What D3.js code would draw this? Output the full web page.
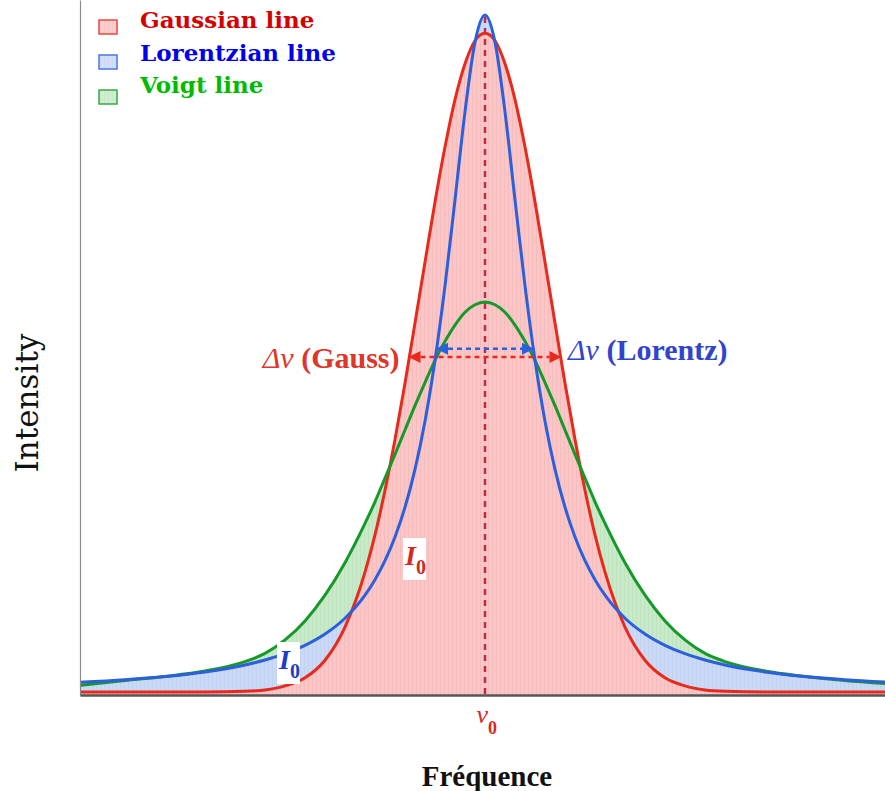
<!DOCTYPE html>
<html>
<head>
<meta charset="utf-8">
<script src="https://cdn.jsdelivr.net/npm/d3@7"></script>
<style>
  body { margin: 0; background: #fff; }
  svg { display: block; }
</style>
</head>
<body>
<svg id="chart" width="885" height="791"></svg>
<script>
// Frequency offset from the line centre (arbitrary units) and normalised intensities
const offsets = [-4.05, -3.6, -3.2, -2.8, -2.4, -2.2, -2.0, -1.8, -1.6, -1.4, -1.2, -1.1, -1.0, -0.9, -0.8, -0.7, -0.6, -0.5, -0.4, -0.3, -0.2, -0.1,
  0,
  0.1, 0.2, 0.3, 0.4, 0.5, 0.6, 0.7, 0.8, 0.9, 1.0, 1.1, 1.2, 1.4, 1.6, 1.8, 2.0, 2.2, 2.4, 2.8, 3.2, 3.6, 4.0];

const gaussian = [0, 0, 0, 0, 0.001, 0.003, 0.009, 0.021, 0.047, 0.096, 0.177, 0.232, 0.298, 0.373, 0.456, 0.545, 0.635, 0.724, 0.805, 0.875, 0.928, 0.962,
  0.973,
  0.962, 0.928, 0.875, 0.805, 0.724, 0.635, 0.545, 0.456, 0.373, 0.298, 0.232, 0.177, 0.096, 0.047, 0.021, 0.009, 0.003, 0.001, 0, 0, 0, 0];

const lorentzian = [0.0144, 0.0182, 0.0229, 0.0297, 0.040, 0.0473, 0.0566, 0.069, 0.0857, 0.109, 0.143, 0.166, 0.194, 0.229, 0.273, 0.329, 0.400, 0.490, 0.600, 0.727, 0.857, 0.960,
  1.0,
  0.960, 0.857, 0.727, 0.600, 0.490, 0.400, 0.329, 0.273, 0.229, 0.194, 0.166, 0.143, 0.109, 0.0857, 0.069, 0.0566, 0.0473, 0.040, 0.0297, 0.0229, 0.0182, 0.0148];

const voigt = [0.010, 0.017, 0.023, 0.031, 0.045, 0.057, 0.077, 0.105, 0.143, 0.191, 0.249, 0.281, 0.316, 0.351, 0.387, 0.423, 0.457, 0.490, 0.518, 0.542, 0.561, 0.572,
  0.576,
  0.572, 0.561, 0.542, 0.518, 0.490, 0.457, 0.423, 0.387, 0.351, 0.316, 0.281, 0.249, 0.191, 0.143, 0.105, 0.077, 0.057, 0.045, 0.031, 0.023, 0.017, 0.0125];

const seriesNames = ["Gaussian line", "Lorentzian line", "Voigt line"];

// Half widths at half maximum and the level at which each width is marked
const halfWidths = [0.765, 0.49];
const widthLevels = [0.495, 0.507];
const widthNames = ["(Gauss)", "(Lorentz)"];

const axisTitles = ["Fréquence", "Intensity"];

const svg = d3.select("#chart");

const x = d3.scaleLinear().domain([-4.05, 4.0]).range([80, 885]);
const y = d3.scaleLinear().domain([-0.0044, 1.0222]).range([695, 0]);

const colors = {
  red: "#e62a1c", redFill: "#fac6c6", redStripe: "#f2b5b8",
  blue: "#2c5fdc", blueFill: "#cad9f5", blueStripe: "#bccdee",
  green: "#16992a", greenFill: "#c9eac8", greenStripe: "#b9deb9",
  centre: "#c42a45"
};

// Faint vertical hatching inside the filled areas
const defs = svg.append("defs");
function stripes(id, base, stripe) {
  const p = defs.append("pattern").attr("id", id).attr("patternUnits", "userSpaceOnUse")
    .attr("width", 4).attr("height", 10);
  p.append("rect").attr("width", 4).attr("height", 10).attr("fill", base);
  p.append("rect").attr("x", 0).attr("width", 1).attr("height", 10).attr("fill", stripe).attr("opacity", 0.6);
}
stripes("hatch-red", colors.redFill, colors.redStripe);
stripes("hatch-blue", colors.blueFill, colors.blueStripe);
stripes("hatch-green", colors.greenFill, colors.greenStripe);

const rows = offsets.map((o, i) => ({ o, g: gaussian[i], l: lorentzian[i], v: voigt[i] }));

const curve = d3.curveMonotoneX;
const area = key => d3.area().curve(curve).x(d => x(d.o)).y0(y(-0.0044)).y1(d => y(d[key]));
const line = key => d3.line().curve(curve).x(d => x(d.o)).y(d => y(d[key]));

const plot = svg.append("g");
plot.append("path").datum(rows).attr("d", area("v")).attr("fill", "url(#hatch-green)");
plot.append("path").datum(rows).attr("d", area("l")).attr("fill", "url(#hatch-blue)");
plot.append("path").datum(rows).attr("d", area("g")).attr("fill", "url(#hatch-red)");

// Centre frequency marker
plot.append("line")
  .attr("x1", x(0)).attr("x2", x(0))
  .attr("y1", y(1.0) + 2).attr("y2", y(-0.0044))
  .attr("stroke", colors.centre).attr("stroke-width", 2.5)
  .attr("stroke-dasharray", "6,5");

// Profile outlines
plot.append("path").datum(rows).attr("d", line("g")).attr("fill", "none")
  .attr("stroke", colors.red).attr("stroke-width", 3);
plot.append("path").datum(rows).attr("d", line("v")).attr("fill", "none")
  .attr("stroke", colors.green).attr("stroke-width", 3);
plot.append("path").datum(rows).attr("d", line("l")).attr("fill", "none")
  .attr("stroke", colors.blue).attr("stroke-width", 3);

// Width arrows (dashed, heads pointing outwards)
const arrowColors = [colors.red, colors.blue];
halfWidths.forEach((hw, i) => {
  const yy = y(widthLevels[i]);
  const x0 = x(-hw), x1 = x(hw);
  const head = 12, half = 6;
  const g = svg.append("g");
  g.append("line").attr("x1", x0 + head).attr("x2", x1 - head).attr("y1", yy).attr("y2", yy)
    .attr("stroke", arrowColors[i]).attr("stroke-width", 2.5).attr("stroke-dasharray", "5,4");
  g.append("path").attr("d", `M${x0},${yy}L${x0 + head},${yy - half}L${x0 + head},${yy + half}Z`).attr("fill", arrowColors[i]);
  g.append("path").attr("d", `M${x1},${yy}L${x1 - head},${yy - half}L${x1 - head},${yy + half}Z`).attr("fill", arrowColors[i]);
});

// Width labels
const gaussLabel = svg.append("text").attr("x", x(-halfWidths[0]) - 9).attr("y", 368)
  .attr("text-anchor", "end").attr("font-family", "Liberation Serif").attr("font-size", 30)
  .attr("fill", "#e0352a");
gaussLabel.append("tspan").attr("font-style", "italic").text("Δν ");
gaussLabel.append("tspan").attr("font-weight", "bold").text(widthNames[0]);

const lorLabel = svg.append("text").attr("x", 568).attr("y", 360)
  .attr("text-anchor", "start").attr("font-family", "Liberation Serif").attr("font-size", 30)
  .attr("fill", "#3344cc");
lorLabel.append("tspan").attr("font-style", "italic").text("Δν ");
lorLabel.append("tspan").attr("font-weight", "bold").text(widthNames[1]);

// I0 markers with white backing
function intensityTag(cx, cy, color) {
  const g = svg.append("g");
  g.append("rect").attr("x", cx - 11).attr("y", cy - 21).attr("width", 23).attr("height", 42).attr("fill", "#fff");
  const t = g.append("text").attr("x", cx - 9).attr("y", cy + 6).attr("font-family", "Liberation Serif")
    .attr("font-weight", "bold").attr("fill", color);
  t.append("tspan").attr("font-style", "italic").attr("font-size", 28).text("I");
  t.append("tspan").attr("font-size", 20).attr("dy", 9).text("0");
}
intensityTag(414, 559, "#d42a22");
intensityTag(288, 663, "#1e3cc8");

// Axes
const yAxis = svg.append("g").attr("transform", `translate(${x.range()[0]},0)`)
  .call(d3.axisLeft(y).tickValues([]).tickSizeOuter(0));
yAxis.select(".domain").attr("stroke", "#8a8a8a").attr("stroke-width", 1.2);

const xAxis = svg.append("g").attr("transform", `translate(0,${y(-0.0044)})`)
  .call(d3.axisBottom(x).tickValues([0]).tickSize(0).tickSizeOuter(0).tickFormat(""));
xAxis.select(".domain").attr("stroke", "#555").attr("stroke-width", 2.6);
const tickText = xAxis.select(".tick text").attr("y", 0).attr("dy", null)
  .attr("font-family", "Liberation Serif").attr("fill", "#d8281e").attr("text-anchor", "start");
tickText.append("tspan").attr("x", -9).attr("y", 28).attr("font-style", "italic").attr("font-size", 26).text("ν");
tickText.append("tspan").attr("y", 39).attr("font-weight", "bold").attr("font-size", 18).text("0");

svg.append("text").attr("x", 487).attr("y", 786).attr("text-anchor", "middle")
  .attr("font-family", "Liberation Serif").attr("font-weight", "bold").attr("font-size", 29)
  .attr("fill", "#111").text(axisTitles[0]);

svg.append("text").attr("transform", "translate(38,403) rotate(-90)").attr("text-anchor", "middle")
  .attr("font-family", "DejaVu Serif").attr("font-size", 31)
  .attr("fill", "#111").text(axisTitles[1]);

// Legend
const legendColors = [
  [colors.red, "url(#hatch-red)", "#d40000"],
  [colors.blue, "url(#hatch-blue)", "#0000ee"],
  [colors.green, "url(#hatch-green)", "#00bb00"]
];
const legend = svg.append("g");
seriesNames.forEach((name, i) => {
  const top = 20 + i * 35;
  legend.append("rect").attr("x", 99).attr("y", top).attr("width", 18).attr("height", 14)
    .attr("fill", legendColors[i][1]).attr("stroke", legendColors[i][0]).attr("stroke-width", 1.5).attr("opacity", 0.85);
  legend.append("text").attr("x", 140).attr("y", 28 + i * 32.5)
    .attr("font-family", "DejaVu Serif").attr("font-weight", "bold").attr("font-size", 23)
    .attr("fill", legendColors[i][2]).text(name);
});
</script>
</body>
</html>
